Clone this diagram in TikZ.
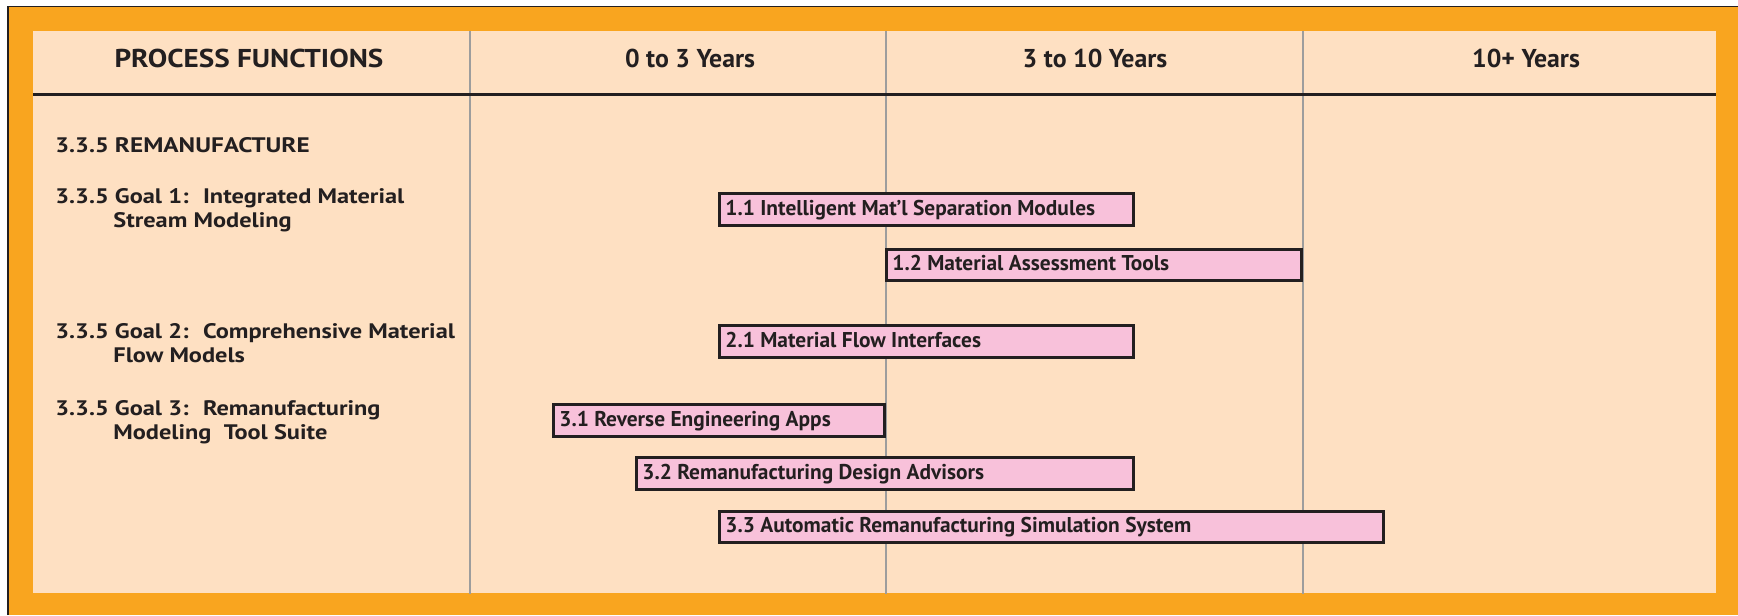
\documentclass[tikz,border=0pt]{standalone}
\usepackage{fontspec}
\setmainfont{PT Sans}
\newfontfamily\leftfont{PT Sans}[FakeStretch=1.16]
\newfontfamily\capsfont{PT Sans}[FakeStretch=1.2]
\newfontfamily\headcapsfont{PT Sans}[FakeStretch=1.13]
\definecolor{frameorange}{HTML}{F9A51F}
\definecolor{cream}{HTML}{FEE0C2}
\definecolor{barpink}{HTML}{F8C1DA}
\definecolor{ink}{HTML}{231F20}
\definecolor{gridgrey}{HTML}{9D9D9D}
\newcommand\ganttbar[6]{% name, x1, y1, x2, y2, text
  \node[barbox, minimum width={(#4-#2-3)*0.5pt}, minimum height={(#5-#3-3)*0.5pt}] (#1) at (#2+1.5,#3+1.5) {};
  \node[bartext] (#1t) at (#2+9,#5-10) {#6};
}
\begin{document}
\begin{tikzpicture}[x=0.5pt,y=-0.5pt,
  barbox/.style={draw=ink, line width=1.5pt, fill=barpink, anchor=north west, inner sep=0pt},
  bartext/.style={anchor=base west, inner sep=0pt, text=ink, font=\fontsize{10.7}{12}\selectfont\bfseries},
  headtext/.style={anchor=base, inner sep=0pt, text=ink, font=\fontsize{12.9}{15}\selectfont\bfseries},
  lefttext/.style={anchor=base west, inner sep=0pt, text=ink, align=left, font=\fontsize{10.5}{9}\leftfont\bfseries},
  gridline/.style={draw=gridgrey, line width=1.2pt}]
\useasboundingbox (0,0) rectangle (1738,615);
\fill[white] (0,0) rectangle (1738,615);
\fill[frameorange] (8,7) rectangle (1738,615);
\draw[ink, line width=0.8pt] (8,615) -- (8,6.5) -- (1738,6.5);
\fill[cream] (33,31) rectangle (1716,593);
% grid
\coordinate (v1t) at (470,31); \coordinate (v1b) at (470,594);
\coordinate (v2t) at (886,31); \coordinate (v2b) at (886,594);
\coordinate (v3t) at (1303,31); \coordinate (v3b) at (1303,594);
\draw[gridline] (v1t) -- (v1b);
\draw[gridline] (v2t) -- (v2b);
\draw[gridline] (v3t) -- (v3b);
\coordinate (hl) at (33,95); \coordinate (hr) at (1716,95);
\draw[ink, line width=1.5pt] (hl) -- (hr);
% header
\node[headtext] (h0) at (249,68) {\headcapsfont\bfseries PROCESS FUNCTIONS};
\node[headtext] (h1) at (690,68) {0 to 3 Years};
\node[headtext] (h2) at (1095,68) {3 to 10 Years};
\node[headtext] (h3) at (1526,68) {10+ Years};
% left column
\node[lefttext] (l0) at (55,152) {3.3.5 {\capsfont\bfseries REMANUFACTURE}};
\node[lefttext] (g1a) at (55,203) {3.3.5 Goal 1:~ Integrated Material};
\node[lefttext] (g1b) at (113,227) {Stream Modeling};
\node[lefttext] (g2a) at (55,338) {3.3.5 Goal 2:~ Comprehensive Material};
\node[lefttext] (g2b) at (113,362) {Flow Models};
\node[lefttext] (g3a) at (55,415) {3.3.5 Goal 3:~ Remanufacturing};
\node[lefttext] (g3b) at (113,439) {Modeling~ Tool Suite};
% bars
\ganttbar{b11}{716}{190}{1133}{225}{1.1 Intelligent Mat’l Separation Modules}
\ganttbar{b12}{883}{246}{1301}{280}{1.2 Material Assessment Tools}
\ganttbar{b21}{716}{322}{1133}{357}{2.1 Material Flow Interfaces}
\ganttbar{b31}{550}{401}{884}{436}{3.1 Reverse Engineering Apps}
\ganttbar{b32}{633}{454}{1133}{489}{3.2 Remanufacturing Design Advisors}
\ganttbar{b33}{716}{508}{1383}{542}{3.3 Automatic Remanufacturing Simulation System}
\end{tikzpicture}
\end{document}
